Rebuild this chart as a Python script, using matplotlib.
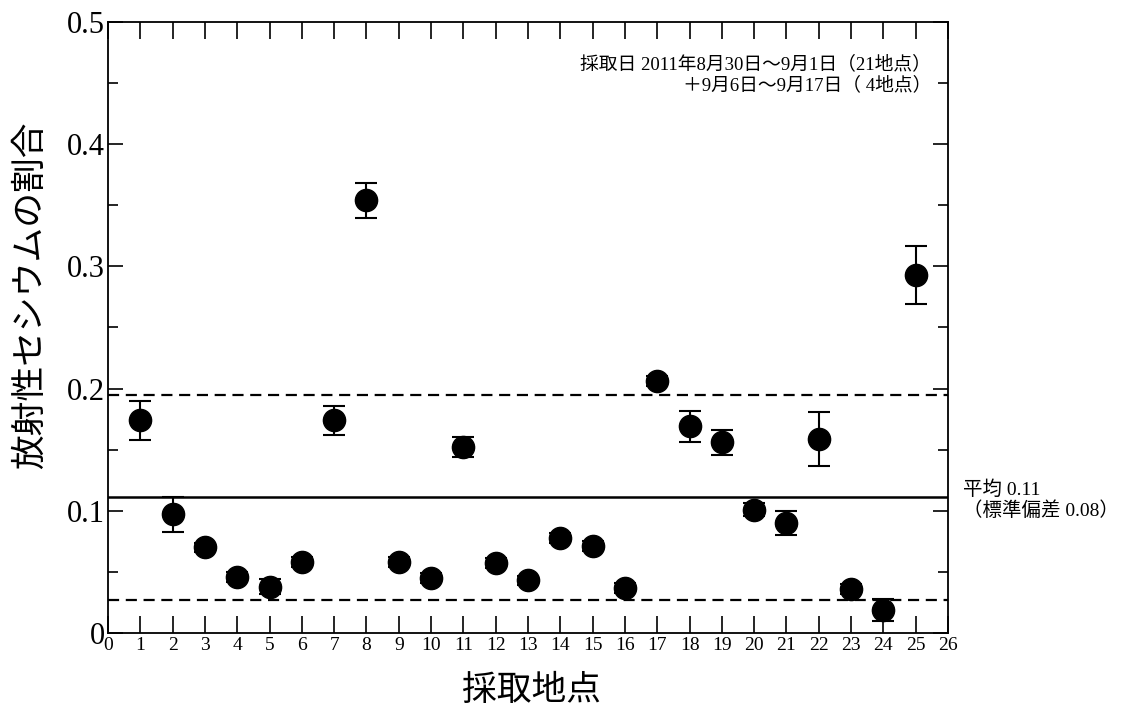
import numpy as np
import matplotlib.pyplot as plt
from matplotlib.ticker import MultipleLocator, FuncFormatter

# 採取地点ごとの放射性セシウムの割合
chiten = list(range(1, 26))
wariai = [0.174, 0.097, 0.070, 0.046, 0.038, 0.058, 0.174, 0.354, 0.058, 0.045,
          0.152, 0.057, 0.043, 0.078, 0.071, 0.037, 0.206, 0.169, 0.156, 0.101,
          0.090, 0.159, 0.036, 0.019, 0.293]
gosa = [0.016, 0.014, 0.004, 0.004, 0.006, 0.004, 0.012, 0.014, 0.004, 0.004,
        0.008, 0.004, 0.004, 0.004, 0.004, 0.004, 0.004, 0.013, 0.010, 0.005,
        0.010, 0.022, 0.004, 0.009, 0.024]
heikin = 0.111
hyojun = 0.084

plt.rcParams['font.family'] = ['Liberation Serif', 'Noto Sans CJK JP']

fig = plt.figure(figsize=(11.45, 7.08), dpi=100)
ax = fig.add_axes([108 / 1145, 75 / 708, 840 / 1145, 611 / 708])

ax.errorbar(chiten, wariai, yerr=gosa, fmt='o', color='black', markersize=16,
            ecolor='black', elinewidth=1.5, capsize=8, capthick=1.5, zorder=3)

# 平均と標準偏差の線
ax.axhline(heikin, color='black', linewidth=1.8)
ax.axhline(heikin + hyojun, color='black', linewidth=1.6, linestyle=(0, (5, 3)))
ax.axhline(heikin - hyojun, color='black', linewidth=1.6, linestyle=(0, (5, 3)))

ax.set_xlim(0, 26)
ax.set_ylim(0, 0.5)
ax.xaxis.set_major_locator(MultipleLocator(1))
ax.yaxis.set_major_locator(MultipleLocator(0.1))
ax.yaxis.set_minor_locator(MultipleLocator(0.05))
ax.yaxis.set_major_formatter(FuncFormatter(lambda v, p: '0' if v == 0 else f'{v:.1f}'))

ax.tick_params(axis='both', which='both', direction='in', top=True, right=True)
ax.tick_params(axis='x', which='major', length=12, width=1.2, labelsize=14, pad=3)
ax.tick_params(axis='y', which='major', length=11, width=1.2, labelsize=22, pad=2)
ax.tick_params(axis='y', which='minor', length=7, width=1.2)
for s in ax.spines.values():
    s.set_linewidth(1.3)

ax.set_xlabel('採取地点', fontsize=25)
ax.set_ylabel('放射性セシウムの割合', fontsize=25)
ax.xaxis.set_label_coords(0.504, -0.068)
ax.yaxis.set_label_coords(-0.072, 0.553)

ax.text(0.98, 0.945, '採取日 2011年8月30日～9月1日（21地点）\n＋9月6日～9月17日（ 4地点）',
        transform=ax.transAxes, ha='right', va='top', fontsize=13.5, linespacing=1.2)

fig.text(963 / 1145, 1 - 500 / 708, '平均 0.11\n（標準偏差 0.08）', ha='left', va='center',
         fontsize=14, linespacing=1.15)

fig.savefig('out.png', dpi=100)
